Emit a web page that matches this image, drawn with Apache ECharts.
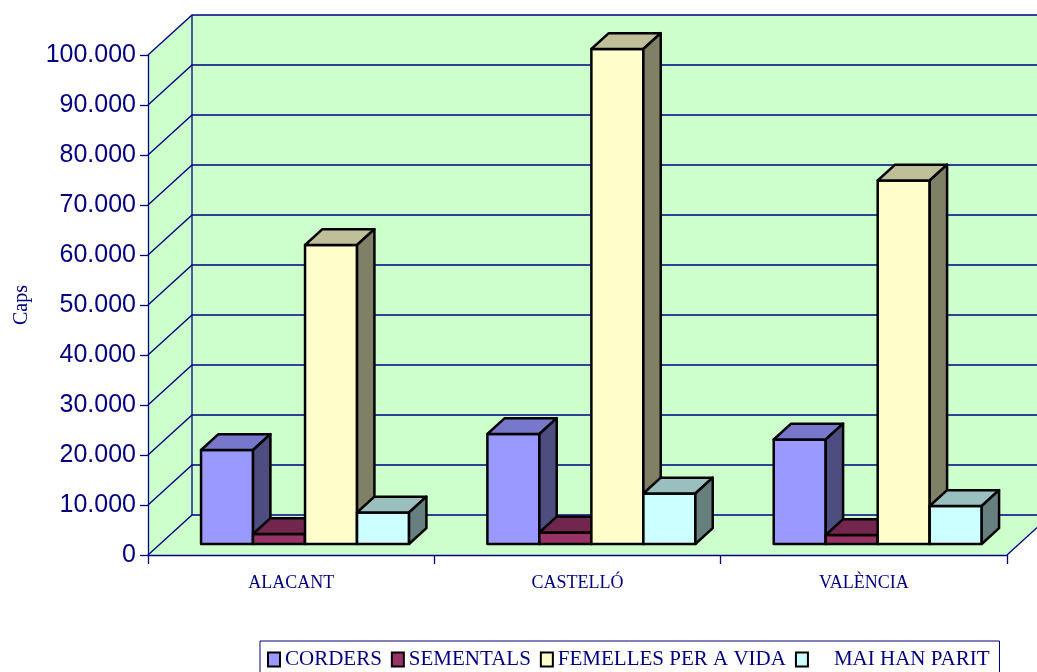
<!DOCTYPE html>
<html>
<head>
<meta charset="utf-8">
<script src="https://cdn.jsdelivr.net/npm/echarts@6/dist/echarts.min.js"></script>
<style>
  html, body { margin: 0; padding: 0; background: #fff; }
  #chart { width: 1037px; height: 672px; }
</style>
</head>
<body>
<div id="chart"></div>
<script type="text/javascript">
// dades del gràfic (caps per província)
var categories = ['ALACANT', 'CASTELLÓ', 'VALÈNCIA'];
var seriesNames = ['CORDERS', 'SEMENTALS', 'FEMELLES PER A VIDA', 'MAI HAN PARIT'];
var corders = [18800, 22000, 20900];
var sementals = [2000, 2300, 1800];
var femelles = [59800, 99000, 72700];
var maiHanParit = [6300, 10100, 7600];
var yTicks = [0, 10000, 20000, 30000, 40000, 50000, 60000, 70000, 80000, 90000, 100000];

var NAVY = '#000080';
var GREEN = '#CCFFCC';
// colors: front, top, side
var faces = [
  ['#9999FF', '#7777CC', '#4D4D80'],
  ['#993366', '#73264D', '#4D1A33'],
  ['#FFFFCC', '#BFBF99', '#808066'],
  ['#CCFFFF', '#99BFBF', '#668080']
];
var DEPTH = [44, -40];      // pixel offset from front plane to back wall
var BAR_FRONT = 0.275, BAR_BACK = 0.67;
var GROUP_START = 0.143, BAR_W = 0.1816;

function fmt(v) {
  return String(v).replace(/\B(?=(\d{3})+(?!\d))/g, '.');
}

function add(p, k) {
  return [p[0] + DEPTH[0] * k, p[1] + DEPTH[1] * k];
}

function renderWalls(params, api) {
  var yMax = yTicks[yTicks.length - 1];
  var p00 = api.coord([0, 0]), p30 = api.coord([3, 0]);
  var p0T = api.coord([0, yMax]), p3T = api.coord([3, yMax]);
  var children = [];
  var fill = { fill: GREEN, stroke: null };
  children.push({ type: 'polygon', shape: { points: [p00, p0T, add(p0T, 1), add(p00, 1)] }, style: fill });
  children.push({ type: 'polygon', shape: { points: [add(p00, 1), add(p0T, 1), add(p3T, 1), add(p30, 1)] }, style: fill });
  children.push({ type: 'polygon', shape: { points: [p00, p30, add(p30, 1), add(p00, 1)] }, style: fill });
  var line = { stroke: NAVY, lineWidth: 1.3, fill: null };
  for (var i = 0; i < yTicks.length; i++) {
    var a = api.coord([0, yTicks[i]]);
    var b = add(a, 1);
    children.push({ type: 'polyline', shape: { points: [a, b, [p3T[0] + DEPTH[0], b[1]]] }, style: line });
  }
  children.push({ type: 'line', shape: { x1: p00[0] + DEPTH[0], y1: p00[1] + DEPTH[1], x2: p0T[0] + DEPTH[0], y2: p0T[1] + DEPTH[1] }, style: line });
  children.push({ type: 'line', shape: { x1: p30[0], y1: p30[1], x2: p30[0] + DEPTH[0], y2: p30[1] + DEPTH[1] }, style: line });
  return { type: 'group', children: children };
}

function makeBar(s) {
  return function (params, api) {
    var cat = api.value(0), val = api.value(1);
    var x0 = cat + GROUP_START + s * BAR_W, x1 = x0 + BAR_W;
    var b = api.coord([x0, 0]), t = api.coord([x1, val]);
    var L = b[0], R = t[0], B = b[1], T = t[1];
    var f = [DEPTH[0] * BAR_FRONT, DEPTH[1] * BAR_FRONT];
    var k = [DEPTH[0] * BAR_BACK, DEPTH[1] * BAR_BACK];
    var st = function (c) { return { fill: c, stroke: '#000', lineWidth: 2.5, lineJoin: 'round' }; };
    return {
      type: 'group',
      children: [
        { type: 'polygon', shape: { points: [[L + f[0], B + f[1]], [R + f[0], B + f[1]], [R + f[0], T + f[1]], [L + f[0], T + f[1]]] }, style: st(faces[s][0]) },
        { type: 'polygon', shape: { points: [[L + f[0], T + f[1]], [R + f[0], T + f[1]], [R + k[0], T + k[1]], [L + k[0], T + k[1]]] }, style: st(faces[s][1]) },
        { type: 'polygon', shape: { points: [[R + f[0], T + f[1]], [R + k[0], T + k[1]], [R + k[0], B + k[1]], [R + f[0], B + f[1]]] }, style: st(faces[s][2]) }
      ]
    };
  };
}

var values = [corders, sementals, femelles, maiHanParit];
var series = [{
  type: 'custom',
  xAxisIndex: 1,
  yAxisIndex: 0,
  z: 1,
  silent: true,
  clip: false,
  renderItem: renderWalls,
  data: [[0, 0]]
}];
for (var s = 0; s < values.length; s++) {
  var d = [];
  for (var c = 0; c < categories.length; c++) {
    d.push([c, values[s][c]]);
  }
  series.push({
    name: seriesNames[s],
    type: 'custom',
    xAxisIndex: 1,
    yAxisIndex: 0,
    z: 2 + s,
    clip: false,
    itemStyle: { color: faces[s][0] },
    renderItem: makeBar(s),
    data: d
  });
}

var myChart = echarts.init(document.getElementById('chart'));
var option = {
  backgroundColor: '#ffffff',
  animation: false,
  grid: { left: 148, right: 30, top: 55, bottom: 117, outerBoundsMode: 'none' },
  legend: {
    data: seriesNames,
    left: 260,
    top: 641,
    itemGap: 9,
    itemWidth: 12,
    itemHeight: 14,
    icon: 'rect',
    padding: [8, 10, 8, 7],
    borderColor: NAVY,
    borderWidth: 1,
    itemStyle: { borderColor: '#000', borderWidth: 2 },
    formatter: function (name) {
      return name === 'MAI HAN PARIT' ? '    ' + name : name;
    },
    textStyle: { fontFamily: 'Liberation Serif', fontSize: 21, color: NAVY }
  },
  xAxis: [
    {
      type: 'category',
      data: categories,
      boundaryGap: true,
      z: 10,
      axisLine: { lineStyle: { color: NAVY, width: 1.3 } },
      axisTick: { show: true, length: 9, lineStyle: { color: NAVY, width: 1.3 } },
      axisLabel: { margin: 19, fontFamily: 'Liberation Serif', fontSize: 18, color: NAVY }
    },
    { type: 'value', min: 0, max: 3, show: false }
  ],
  yAxis: [{
    type: 'value',
    min: 0,
    max: 100000,
    interval: 10000,
    z: 10,
    name: 'Caps',
    nameLocation: 'middle',
    nameRotate: 90,
    nameGap: 116,
    nameTextStyle: { fontFamily: 'Liberation Serif', fontSize: 20, color: NAVY },
    axisLine: { show: true, lineStyle: { color: NAVY, width: 1.3 } },
    axisTick: { show: true, length: 8, lineStyle: { color: NAVY, width: 1.3 } },
    splitLine: { show: false },
    axisLabel: {
      margin: 12,
      fontFamily: 'Liberation Sans',
      fontSize: 25,
      color: NAVY,
      formatter: fmt
    }
  }],
  series: series
};
myChart.setOption(option);
</script>
</body>
</html>
